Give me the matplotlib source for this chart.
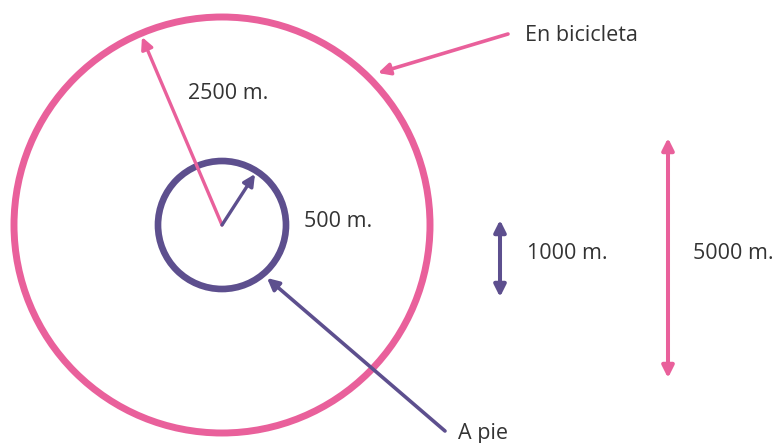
import matplotlib
matplotlib.use("Agg")
import matplotlib.pyplot as plt
from matplotlib.patches import Circle

plt.rcParams['font.family'] = ['Open Sans', 'DejaVu Sans']

# Data (labels and drawing geometry in image units)
labels = ["En bicicleta", "A pie"]
radius_labels = ["2500 m.", "500 m."]
diameter_labels = ["1000 m.", "5000 m."]
center = (222, 225)
radii = [208, 64]
pink = "#E9609B"
purple = "#5D4F8E"
text_color = "#333333"

fig = plt.figure(figsize=(7.78, 4.43), dpi=100)
ax = fig.add_axes([0, 0, 1, 1])
ax.set_xlim(0, 778)
ax.set_ylim(443, 0)
ax.set_aspect('equal')
ax.axis('off')

ax.add_patch(Circle(center, radii[0], fill=False, ec=pink, lw=5.0))
ax.add_patch(Circle(center, radii[1], fill=False, ec=purple, lw=4.8))

def arrow(start, end, color, both=False, lw=2.4):
    style = '<|-|>' if both else '-|>'
    ax.annotate('', xy=end, xytext=start,
                arrowprops=dict(arrowstyle=style + ',head_length=0.7,head_width=0.35',
                                color=color, lw=lw, shrinkA=0, shrinkB=0))

# radius arrows
arrow(center, (142, 37), pink)
arrow(center, (255, 174), purple)
# pointer arrows
arrow((508, 34), (378, 73), pink, lw=2.6)
arrow((445, 431), (267, 278), purple, lw=2.6)
# diameter arrows
arrow((500, 297), (500, 220), purple, both=True, lw=2.9)
arrow((668, 378), (668, 138), pink, both=True, lw=2.9)

fs = 15.5
ax.text(188, 99, radius_labels[0], fontsize=fs, color=text_color, va='baseline', ha='left')
ax.text(304, 227, radius_labels[1], fontsize=fs, color=text_color, va='baseline', ha='left')
ax.text(525, 41, labels[0], fontsize=fs, color=text_color, va='baseline', ha='left')
ax.text(458, 439, labels[1], fontsize=fs, color=text_color, va='baseline', ha='left')
ax.text(527, 259, diameter_labels[0], fontsize=fs, color=text_color, va='baseline', ha='left')
ax.text(693, 259, diameter_labels[1], fontsize=fs, color=text_color, va='baseline', ha='left')

fig.savefig("out.png", dpi=100)
